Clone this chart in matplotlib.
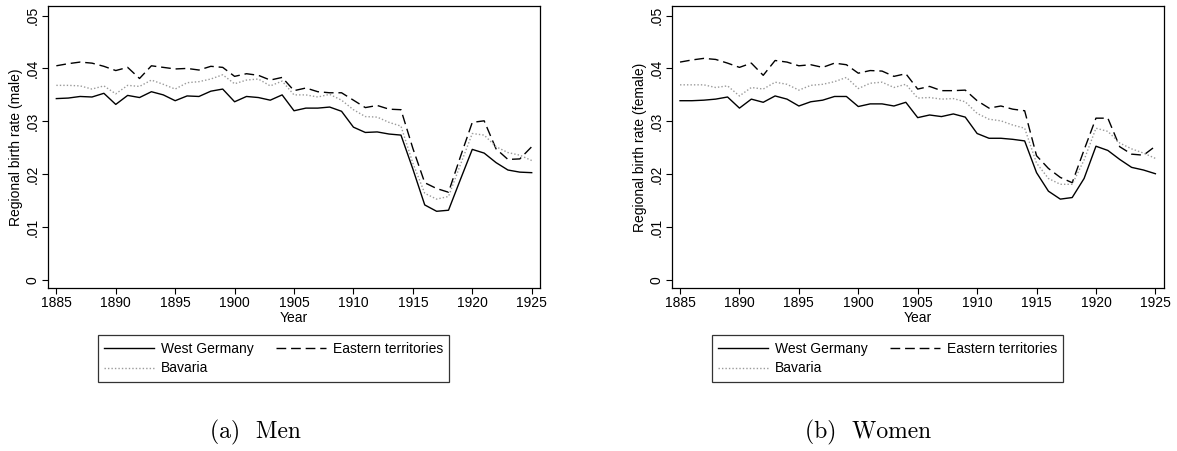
import numpy as np
import matplotlib
matplotlib.use("Agg")
import matplotlib.pyplot as plt
from matplotlib.lines import Line2D

plt.rcParams["font.family"] = ["Liberation Sans", "DejaVu Sans"]

years = np.arange(1885, 1926)

# Regional birth rates, men
west_male = [0.0343, 0.0344, 0.0347, 0.0346, 0.0353, 0.0332, 0.0349, 0.0345, 0.0356, 0.0350,
             0.0339, 0.0348, 0.0347, 0.0357, 0.0361, 0.0337, 0.0347, 0.0345, 0.0340, 0.0350,
             0.0320, 0.0325, 0.0325, 0.0327, 0.0319, 0.0289, 0.0279, 0.0280, 0.0276, 0.0274,
             0.0210, 0.0142, 0.0130, 0.0132, 0.0190, 0.0247, 0.0240, 0.0222, 0.0208, 0.0204,
             0.0203]
east_male = [0.0405, 0.0409, 0.0412, 0.0410, 0.0404, 0.0396, 0.0402, 0.0381, 0.0405, 0.0402,
             0.0399, 0.0400, 0.0397, 0.0404, 0.0402, 0.0385, 0.0390, 0.0387, 0.0378, 0.0383,
             0.0358, 0.0363, 0.0356, 0.0354, 0.0354, 0.0340, 0.0326, 0.0330, 0.0323, 0.0322,
             0.0249, 0.0184, 0.0173, 0.0166, 0.0233, 0.0298, 0.0301, 0.0248, 0.0228, 0.0229,
             0.0252]
bav_male = [0.0368, 0.0368, 0.0367, 0.0361, 0.0367, 0.0352, 0.0368, 0.0366, 0.0378, 0.0370,
            0.0361, 0.0373, 0.0375, 0.0380, 0.0388, 0.0371, 0.0378, 0.0380, 0.0367, 0.0376,
            0.0350, 0.0350, 0.0346, 0.0351, 0.0340, 0.0322, 0.0309, 0.0308, 0.0298, 0.0291,
            0.0221, 0.0164, 0.0153, 0.0158, 0.0218, 0.0277, 0.0274, 0.0252, 0.0241, 0.0236,
            0.0226]

# Regional birth rates, women
west_female = [0.0339, 0.0339, 0.0340, 0.0342, 0.0346, 0.0325, 0.0342, 0.0336, 0.0348, 0.0342,
               0.0329, 0.0337, 0.0340, 0.0347, 0.0347, 0.0328, 0.0333, 0.0333, 0.0329, 0.0336,
               0.0307, 0.0312, 0.0309, 0.0314, 0.0308, 0.0277, 0.0268, 0.0268, 0.0266, 0.0263,
               0.0203, 0.0168, 0.0153, 0.0156, 0.0192, 0.0253, 0.0245, 0.0228, 0.0213, 0.0208,
               0.0201]
east_female = [0.0412, 0.0416, 0.0419, 0.0417, 0.0410, 0.0402, 0.0410, 0.0387, 0.0415, 0.0412,
               0.0405, 0.0407, 0.0402, 0.0410, 0.0407, 0.0391, 0.0396, 0.0395, 0.0385, 0.0390,
               0.0361, 0.0366, 0.0358, 0.0358, 0.0359, 0.0339, 0.0325, 0.0329, 0.0323, 0.0320,
               0.0235, 0.0211, 0.0194, 0.0184, 0.0246, 0.0306, 0.0306, 0.0252, 0.0238, 0.0236,
               0.0253]
bav_female = [0.0369, 0.0369, 0.0369, 0.0364, 0.0367, 0.0348, 0.0364, 0.0361, 0.0374, 0.0370,
              0.0359, 0.0368, 0.0370, 0.0375, 0.0383, 0.0362, 0.0372, 0.0374, 0.0364, 0.0370,
              0.0344, 0.0345, 0.0342, 0.0343, 0.0337, 0.0315, 0.0304, 0.0301, 0.0293, 0.0287,
              0.0221, 0.0192, 0.0181, 0.0181, 0.0227, 0.0287, 0.0281, 0.0259, 0.0248, 0.0240,
              0.0230]

xticks = np.arange(1885, 1926, 5)
yticks = [0, 0.01, 0.02, 0.03, 0.04, 0.05]
ytick_labels = ["0", ".01", ".02", ".03", ".04", ".05"]

solid = dict(color="black", lw=1.0, linestyle="-")
dashed = dict(color="black", lw=1.0, linestyle=(0, (7, 3.5)))
dotted = dict(color="#9a9a9a", lw=1.0, linestyle=(0, (1, 1.5)))

fig = plt.figure(figsize=(11.77, 4.51), dpi=100)

panels = [
    (0.0408, west_male, east_male, bav_male, "Regional birth rate (male)", "(a)  Men", 0.2167, 0.2324),
    (0.5707, west_female, east_female, bav_female, "Regional birth rate (female)", "(b)  Women", 0.7375, 0.7540),
]

for left, west, east, bav, ylabel, caption, cap_x, leg_x in panels:
    ax = fig.add_axes([left, 0.3614, 0.418, 0.6253])
    ax.plot(years, west, **solid)
    ax.plot(years, east, **dashed)
    ax.plot(years, bav, **dotted)

    ax.set_xlim(1884.3, 1925.7)
    ax.set_ylim(-0.0015, 0.0518)
    ax.set_xticks(xticks)
    ax.set_yticks(yticks)
    ax.set_yticklabels(ytick_labels, rotation=90, va="center")
    ax.tick_params(direction="out", length=4, width=0.8, labelsize=10, pad=2)
    for s in ax.spines.values():
        s.set_linewidth(0.9)
    ax.set_xlabel("Year", fontsize=10, labelpad=0.5)
    ax.set_ylabel(ylabel, fontsize=10, labelpad=2)

    # column-wise fill: West Germany / Bavaria, then Eastern territories
    handles = [Line2D([], [], **solid), Line2D([], [], **dotted), Line2D([], [], **dashed)]
    labels = ["West Germany", "Bavaria", "Eastern territories"]
    leg = fig.legend(handles, labels, ncol=2, bbox_to_anchor=(leg_x, 0.2051), loc="center",
                     fontsize=10, handlelength=3.6, handletextpad=0.5,
                     columnspacing=1.6, labelspacing=0.42, borderpad=0.45,
                     borderaxespad=0, frameon=True, fancybox=False, edgecolor="black")
    leg.get_frame().set_linewidth(0.9)

    fig.text(cap_x, 0.042, caption, ha="center", va="center", fontsize=17,
             family=["cmr10", "DejaVu Serif"])

fig.savefig("out.png", dpi=100)
